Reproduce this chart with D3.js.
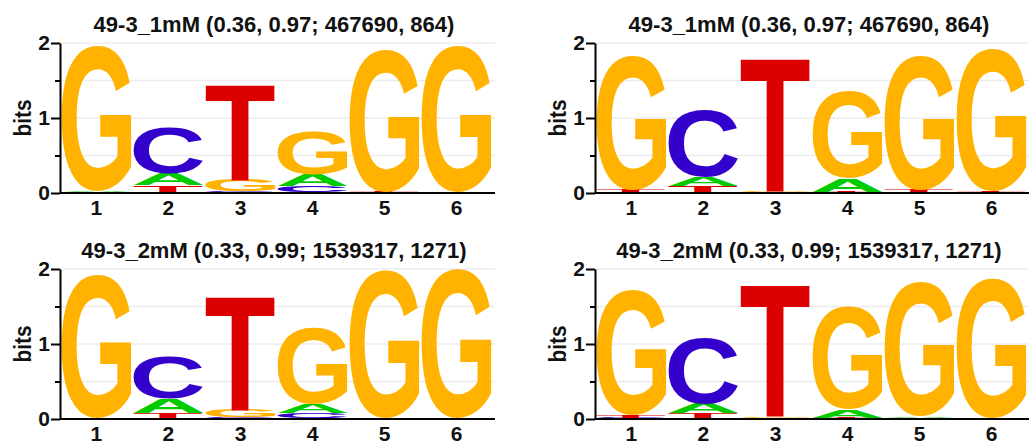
<!DOCTYPE html>
<html>
<head>
<meta charset="utf-8">
<title>Sequence logos 49-3</title>
<script src="https://d3js.org/d3.v7.min.js"></script>
<style>
    body { margin: 0; background: #fff; }
    svg text { font-family: "Liberation Sans", Arial, sans-serif; font-weight: bold; fill: #111; }
</style>
</head>
<body>
<svg id="chart"></svg>
<script>
const positions = [1, 2, 3, 4, 5, 6];
const bases = ["A", "C", "G", "T"];
const baseColors = ["#00cc00", "#3300cc", "#ffb300", "#dd0000"];
const yTicks = [0, 1, 2];
const yMinorTicks = [0.5, 1.5];
const gridValues = [0.5, 1, 1.5, 2];
const title1mM = "49-3_1mM (0.36, 0.97; 467690, 864)";
const title2mM = "49-3_2mM (0.33, 0.99; 1539317, 1271)";

// bits at each position, one row per base: A, C, G, T
const logo1mMLeft = [
    [0.01, 0.15, 0.01, 0.155, 0.005, 0.003],
    [0.005, 0.61, 0.01, 0.08, 0.005, 0.003],
    [1.93, 0.01, 0.16, 0.58, 1.89, 1.955],
    [0.005, 0.093, 1.28, 0.01, 0.01, 0.003]
];
const logo1mMRight = [
    [0.005, 0.115, 0.005, 0.18, 0.01, 0.005],
    [0.005, 0.89, 0.005, 0.01, 0.005, 0.005],
    [1.79, 0.01, 0.02, 1.15, 1.79, 1.90],
    [0.025, 0.09, 1.78, 0.01, 0.025, 0.01]
];
const logo2mMLeft = [
    [0.005, 0.19, 0.01, 0.12, 0.005, 0.003],
    [0.005, 0.56, 0.01, 0.067, 0.003, 0.003],
    [1.92, 0.01, 0.1, 1.01, 1.96, 1.98],
    [0.005, 0.07, 1.52, 0.01, 0.005, 0.003]
];
const logo2mMRight = [
    [0.01, 0.13, 0.005, 0.11, 0.02, 0.005],
    [0.01, 0.87, 0.01, 0.01, 0.005, 0.005],
    [1.67, 0.01, 0.02, 1.37, 1.79, 1.87],
    [0.03, 0.067, 1.77, 0.01, 0.01, 0.005]
];

const width = 1029, height = 444;
const svg = d3.select("#chart").attr("width", width).attr("height", height);

const panels = [
    { title: title1mM, rows: logo1mMLeft, left: 60, top: 43 },
    { title: title1mM, rows: logo1mMRight, left: 595, top: 43 },
    { title: title2mM, rows: logo2mMLeft, left: 60, top: 269 },
    { title: title2mM, rows: logo2mMRight, left: 595, top: 269 }
];

// ink box of each glyph, so letters can be stretched to fill their slot
const ctx = document.createElement("canvas").getContext("2d");
ctx.font = "bold 100px 'Liberation Sans'";
const ink = {};
bases.forEach(b => {
    const m = ctx.measureText(b);
    ink[b] = { l: m.actualBoundingBoxLeft, r: m.actualBoundingBoxRight,
               a: m.actualBoundingBoxAscent, d: m.actualBoundingBoxDescent };
});

panels.forEach(p => {
    const g = svg.append("g");
    const y = d3.scaleLinear().domain([0, 2]).range([p.top + 150, p.top]);
    const x = d3.scaleBand().domain(positions)
        .range([p.left + 1.5, p.left + 431.5]).paddingInner(0.03);
    const right = p.left + 435;

    g.selectAll(".grid").data(gridValues).join("line")
        .attr("x1", p.left).attr("x2", right)
        .attr("y1", d => y(d)).attr("y2", d => y(d))
        .attr("stroke", "#ececec").attr("stroke-width", 1.5);

    // stack letters, smallest at the bottom
    const letters = [];
    positions.forEach((pos, i) => {
        const col = bases.map((b, k) => ({ base: b, color: baseColors[k], bits: p.rows[k][i], pos }))
            .sort((a, b) => a.bits - b.bits);
        let acc = 0;
        col.forEach(c => { c.y0 = acc; acc += c.bits; c.y1 = acc; letters.push(c); });
    });

    g.selectAll(".letter").data(letters).join("text")
        .text(d => d.base)
        .style("font-size", "100px")
        .style("fill", d => d.color)
        .attr("transform", d => {
            const k = ink[d.base];
            const w = x.bandwidth(), h = y(d.y0) - y(d.y1);
            const sx = w / (k.l + k.r), sy = h / (k.a + k.d);
            return `translate(${x(d.pos)},${y(d.y0)}) scale(${sx},${sy}) translate(${k.l},${-k.d})`;
        });

    // axes
    g.append("line")
        .attr("x1", p.left).attr("x2", right)
        .attr("y1", y(0)).attr("y2", y(0))
        .attr("stroke", "#000").attr("stroke-width", 2);

    const yAxis = g.append("g").attr("transform", `translate(${p.left},0)`)
        .call(d3.axisLeft(y).tickValues(yTicks).tickFormat(d3.format("d"))
            .tickSize(9).tickSizeOuter(0).tickPadding(1));
    yAxis.select(".domain").attr("stroke-width", 2);
    yAxis.selectAll(".tick line").attr("stroke-width", 2);
    yAxis.selectAll("text").style("font-size", "21px").style("font-family", null);

    const yMinor = g.append("g").attr("transform", `translate(${p.left},0)`)
        .call(d3.axisLeft(y).tickValues(yMinorTicks).tickSize(5).tickFormat(""));
    yMinor.select(".domain").remove();
    yMinor.selectAll("text").remove();
    yMinor.selectAll(".tick line").attr("stroke-width", 2);

    g.selectAll(".xlab").data(positions).join("text")
        .attr("x", d => x(d) + x.bandwidth() / 2)
        .attr("y", y(0) + 22)
        .attr("text-anchor", "middle")
        .style("font-size", "21px")
        .text(d => d);

    g.append("text")
        .attr("transform", `translate(${p.left - 29},${y(1)}) rotate(-90)`)
        .attr("text-anchor", "middle")
        .attr("textLength", 37)
        .attr("lengthAdjust", "spacingAndGlyphs")
        .style("font-size", "24px")
        .text("bits");

    g.append("text")
        .attr("x", p.left + 214)
        .attr("y", p.top - 11)
        .attr("text-anchor", "middle")
        .style("font-size", "22px")
        .text(p.title);
});
</script>
</body>
</html>
